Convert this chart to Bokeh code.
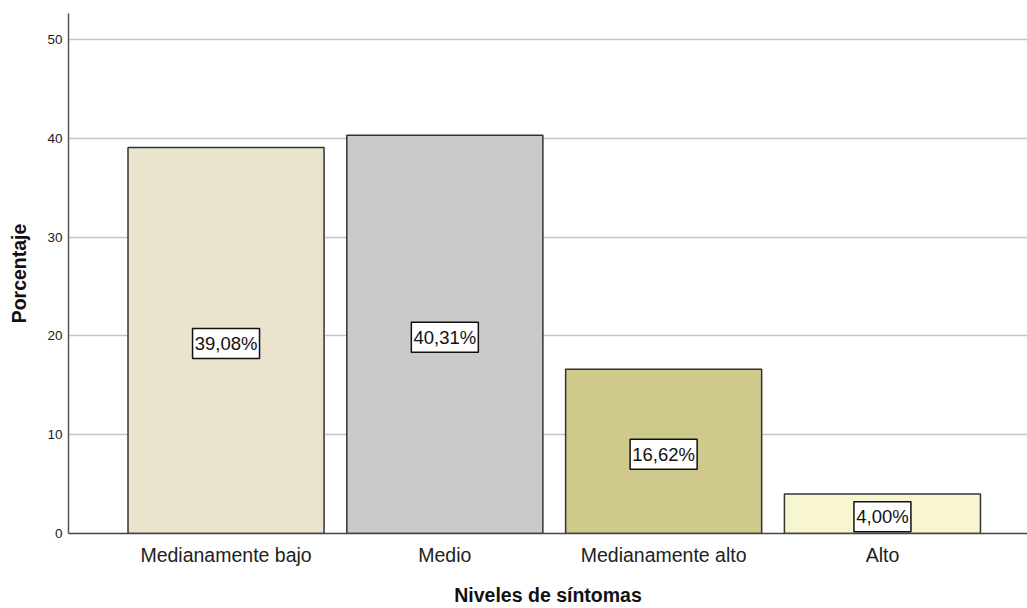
from bokeh.plotting import figure
from bokeh.models import Range1d, FixedTicker, ColumnDataSource
from bokeh.core.properties import value
from bokeh.embed import file_html
from bokeh.resources import INLINE

categories = ["Medianamente bajo", "Medio", "Medianamente alto", "Alto"]
percentages = [39.08, 40.31, 16.62, 4.00]
bar_colors = ["#EAE4CE", "#CACACA", "#CFC98B", "#F8F6D1"]
y_ticks = [0, 10, 20, 30, 40, 50]

FONT = "Liberation Sans"

xs = list(range(1, len(categories) + 1))
labels = [("%.2f%%" % v).replace(".", ",") for v in percentages]
src = ColumnDataSource(dict(
    x=xs,
    top=percentages,
    color=bar_colors,
    ly=[v / 2 - 0.3 for v in percentages],
    label=labels,
    bw=[10 * len(t) + 7 for t in labels],
))

p = figure(width=1027, height=608, output_backend="svg", toolbar_location=None,
           x_range=Range1d(0.28, 4.663), y_range=Range1d(0, 52.63),
           min_border_left=68, min_border_right=0, min_border_top=13, min_border_bottom=75)
p.outline_line_color = None
p.background_fill_color = "white"
p.border_fill_color = "white"

p.vbar(x="x", top="top", width=0.896, bottom=0, source=src,
       fill_color="color", line_color="#333333", line_width=1.5)

p.rect(x="x", y="ly", width="bw", height=30, width_units="screen", height_units="screen",
       source=src, fill_color="white", line_color="#111111", line_width=1.5)
p.text(x="x", y="ly", text="label", source=src, text_align="center", text_baseline="middle",
       text_font=value(FONT), text_font_size="18.5px", text_color="#111111")

# grid
p.xgrid.grid_line_color = None
p.ygrid.ticker = FixedTicker(ticks=y_ticks)
p.ygrid.grid_line_color = "#C4C4C4"
p.ygrid.grid_line_width = 1.5
p.ygrid.level = "underlay"

# y axis
p.yaxis.ticker = FixedTicker(ticks=y_ticks)
p.yaxis.axis_label = "Porcentaje"
p.yaxis.axis_label_text_font = FONT
p.yaxis.axis_label_text_font_style = "bold"
p.yaxis.axis_label_text_font_size = "19.5px"
p.yaxis.axis_label_text_color = "#111111"
p.yaxis.axis_label_standoff = 14
p.yaxis.major_label_text_font = FONT
p.yaxis.major_label_text_font_size = "13.5px"
p.yaxis.major_label_text_color = "#1A1A1A"
p.yaxis.major_label_standoff = 6
p.yaxis.major_tick_out = 0
p.yaxis.major_tick_in = 0
p.yaxis.minor_tick_out = 0
p.yaxis.minor_tick_in = 0
p.yaxis.axis_line_color = "#555555"
p.yaxis.axis_line_width = 1.5

# x axis
p.xaxis.ticker = FixedTicker(ticks=xs)
p.xaxis.major_label_overrides = {x: c for x, c in zip(xs, categories)}
p.xaxis.axis_label = "Niveles de síntomas"
p.xaxis.axis_label_text_font = FONT
p.xaxis.axis_label_text_font_style = "bold"
p.xaxis.axis_label_text_font_size = "19.5px"
p.xaxis.axis_label_text_color = "#111111"
p.xaxis.axis_label_standoff = 15
p.xaxis.major_label_text_font = FONT
p.xaxis.major_label_text_font_size = "19.5px"
p.xaxis.major_label_text_color = "#222222"
p.xaxis.major_label_standoff = 10
p.xaxis.major_tick_out = 0
p.xaxis.major_tick_in = 0
p.xaxis.minor_tick_out = 0
p.xaxis.minor_tick_in = 0
p.xaxis.axis_line_color = "#444444"
p.xaxis.axis_line_width = 1.5

open("out.html", "w").write(file_html(p, INLINE))
